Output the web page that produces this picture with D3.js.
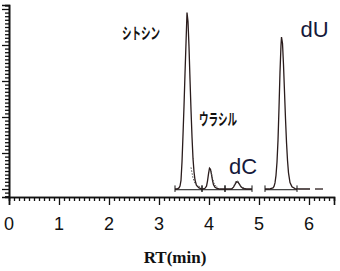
<!DOCTYPE html>
<head>
  <meta charset="utf-8">
  <script src="https://d3js.org/d3.v7.min.js"></script>
  <style>
    body { margin: 0; background: #fff; }
    .tick-label { font-family: 'Liberation Sans', Arial, sans-serif; font-size: 18px; fill: #111; }
    .axis-title { font-family: 'Liberation Serif', 'Times New Roman', serif; font-size: 17px; font-weight: bold; fill: #111; }
    .jp { font-family: 'Noto Sans CJK JP', sans-serif; font-size: 16px; font-weight: bold; fill: #111; }
    .nuc { font-family: 'Liberation Sans', Arial, sans-serif; font-size: 22px; fill: #15193a; }
  </style>
</head>
<body>
<div id="chart"></div>
<script>

// ---- data (RT in min, signal in major-tick units) ----

const xTicks = [0, 1, 2, 3, 4, 5, 6];

// main trace, segment 1 : シトシン / ウラシル / dC
const traceA = [
  [3.32, 0.00], [3.36, 0.00], [3.40, 0.03], [3.42, 0.08], [3.44, 0.24], [3.46, 0.75],
  [3.48, 1.50], [3.50, 2.30], [3.52, 3.20], [3.54, 4.05], [3.56, 4.90], [3.58, 4.65],
  [3.60, 3.95], [3.62, 3.05], [3.64, 2.20], [3.66, 1.45], [3.68, 0.85], [3.70, 0.48],
  [3.72, 0.25], [3.75, 0.10], [3.80, 0.03], [3.86, 0.00], [3.92, 0.02], [3.95, 0.08],
  [3.97, 0.22], [3.99, 0.42], [4.01, 0.58], [4.03, 0.55], [4.05, 0.40], [4.07, 0.24],
  [4.09, 0.12], [4.12, 0.05], [4.16, 0.02], [4.22, 0.00], [4.32, 0.00], [4.45, 0.00],
  [4.49, 0.05], [4.52, 0.13], [4.55, 0.20], [4.58, 0.19], [4.61, 0.13], [4.64, 0.06],
  [4.68, 0.02], [4.75, 0.00], [4.86, 0.00]
];

// main trace, segment 2 : dU
const traceB = [
  [5.12, 0.00], [5.20, 0.00], [5.28, 0.03], [5.30, 0.07], [5.32, 0.17], [5.34, 0.38],
  [5.36, 0.75], [5.38, 1.35], [5.40, 2.25], [5.42, 3.25], [5.44, 4.00], [5.45, 4.22],
  [5.47, 4.05], [5.49, 3.45], [5.51, 2.70], [5.53, 1.95], [5.55, 1.30], [5.57, 0.80],
  [5.59, 0.45], [5.62, 0.18], [5.66, 0.06], [5.72, 0.01], [5.80, 0.00], [6.02, 0.00]
];

// short trailing piece
const traceC = [[6.12, 0.00], [6.28, 0.00]];

// dotted overlay on the peak tails
const dottedTails = [
  [[3.64, 0.60], [3.68, 0.30], [3.72, 0.16], [3.76, 0.10], [3.80, 0.07], [3.84, 0.05]],
  [[4.04, 0.50], [4.07, 0.30], [4.10, 0.16], [4.14, 0.08], [4.18, 0.04]],
  [[4.50, 0.10], [4.54, 0.22], [4.58, 0.22], [4.62, 0.12], [4.66, 0.05], [4.72, 0.02]]
];

// integration baselines (start, end)
const baselines = [[3.32, 3.86], [3.86, 4.32], [4.32, 4.86], [5.12, 5.76]];

const peakLabels = [
  { text: "シトシン", rt: 2.26, val: 4.17, cls: "jp", len: 38 },
  { text: "ウラシル", rt: 3.80, val: 1.78, cls: "jp", len: 38 },
  { text: "dC",       rt: 4.40, val: 0.42, cls: "nuc" },
  { text: "dU",       rt: 5.83, val: 4.22, cls: "nuc" }
];

// ---- layout ----
const width = 340, height = 271;

const x = d3.scaleLinear().domain([0, 6.5]).range([9, 334]);
const y = d3.scaleLinear().domain([-0.222, 5.111]).range([197, 5]);

const svg = d3.select("#chart").append("svg")
    .attr("width", width)
    .attr("height", height);

// ---- axes ----
const xMinor = d3.range(0, 65).map(i => i / 10).filter(v => v % 1 !== 0);
const yMinor = d3.range(-2, 52).map(i => i / 10).filter(v => Math.abs(v % 1) > 1e-9);
const yMajor = [0, 1, 2, 3, 4, 5];

const xAxisMinor = d3.axisBottom(x).tickValues(xMinor).tickSize(4).tickFormat("");
const xAxisMajor = d3.axisBottom(x).tickValues(xTicks).tickSize(8).tickFormat("");
const yAxisMinor = d3.axisLeft(y).tickValues(yMinor).tickSize(4).tickFormat("");
const yAxisMajor = d3.axisLeft(y).tickValues(yMajor).tickSize(7).tickFormat("");

[xAxisMinor, xAxisMajor].forEach(ax => {
  svg.append("g").attr("transform", "translate(0," + y(-0.222) + ")").call(ax);
});
[yAxisMinor, yAxisMajor].forEach(ax => {
  svg.append("g").attr("transform", "translate(" + x(0) + ",0)").call(ax);
});

svg.selectAll(".domain").attr("stroke", "#111").attr("stroke-width", 1.6);
svg.selectAll(".tick line").attr("stroke", "#111").attr("stroke-width", 1.3);

svg.selectAll(".xlab")
    .data(xTicks)
    .enter().append("text")
    .attr("class", "tick-label")
    .attr("x", d => x(d))
    .attr("y", 230)
    .attr("text-anchor", "middle")
    .text(d => d);

svg.append("text")
    .attr("class", "axis-title")
    .attr("x", 175)
    .attr("y", 263)
    .attr("text-anchor", "middle")
    .text("RT(min)");

// ---- traces ----
const line = d3.line().x(d => x(d[0])).y(d => y(d[1]));

// integration baselines with end marks
baselines.forEach(b => {
  svg.append("line")
      .attr("x1", x(b[0])).attr("x2", x(b[1]))
      .attr("y1", y(-0.02)).attr("y2", y(-0.02))
      .attr("stroke", "#111").attr("stroke-width", 1);
  b.forEach(v => {
    svg.append("line")
        .attr("x1", x(v)).attr("x2", x(v))
        .attr("y1", y(0.1)).attr("y2", y(-0.08))
        .attr("stroke", "#111").attr("stroke-width", 1);
  });
});

[traceA, traceB, traceC].forEach(t => {
  svg.append("path")
      .datum(t)
      .attr("d", line)
      .attr("fill", "none")
      .attr("stroke", "#2a1c1c")
      .attr("stroke-width", 1.3);
});

dottedTails.forEach(t => {
  svg.append("path")
      .datum(t)
      .attr("d", line)
      .attr("fill", "none")
      .attr("stroke", "#555")
      .attr("stroke-width", 1)
      .attr("stroke-dasharray", "1.5,1.5");
});

// ---- peak labels ----
peakLabels.forEach(p => {
  const t = svg.append("text")
      .attr("class", p.cls)
      .attr("x", x(p.rt))
      .attr("y", y(p.val))
      .text(p.text);
  if (p.len) t.attr("textLength", p.len).attr("lengthAdjust", "spacingAndGlyphs");
});

</script>
</body>
